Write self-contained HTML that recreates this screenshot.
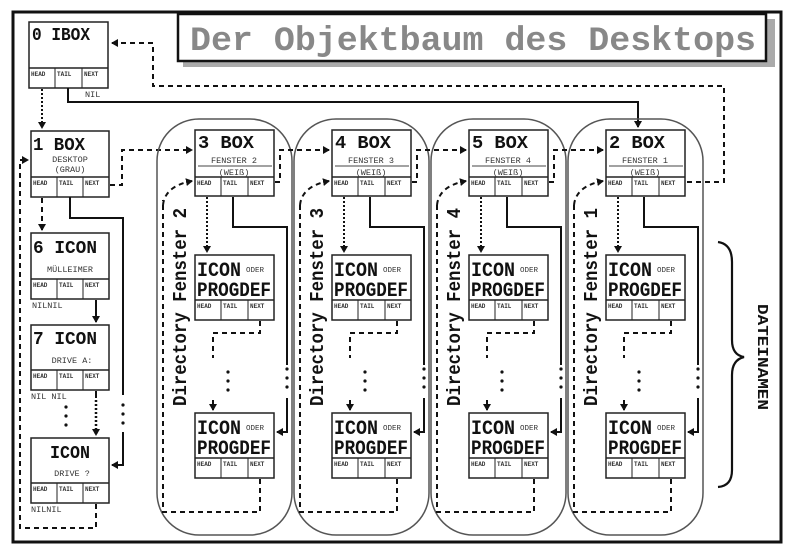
<!DOCTYPE html>
<html><head><meta charset="utf-8"><style>
html,body{margin:0;padding:0;background:#fff;}
svg{display:block;}
text{font-family:"Liberation Mono",monospace;font-weight:bold;fill:#111;}
.s{font-size:6px;font-weight:bold;fill:#333;}
.m{font-size:8.5px;font-weight:normal;fill:#333;}
.b{font-size:18px;}
.box{fill:#fff;stroke:#222;stroke-width:1.5;}
.ln{fill:none;stroke:#111;stroke-width:2;}
.da{fill:none;stroke:#111;stroke-width:2;stroke-dasharray:5,4;}
.dt{fill:none;stroke:#111;stroke-width:2;stroke-dasharray:2,2;}
.col{fill:none;stroke:#555;stroke-width:1.5;}
</style></head><body>
<svg width="800" height="553" viewBox="0 0 800 553" xmlns="http://www.w3.org/2000/svg">
<defs>
<marker id="a" markerWidth="8" markerHeight="8" refX="6" refY="4" orient="auto" markerUnits="userSpaceOnUse"><path d="M0,0 L7,4 L0,8 z" fill="#111"/></marker>
</defs>
<rect x="0" y="0" width="800" height="553" fill="#fff"/>
<!-- frame -->
<rect x="13" y="12" width="768" height="530" fill="none" stroke="#111" stroke-width="3"/>
<!-- title -->
<rect x="183" y="19" width="592" height="48" fill="#aaa"/>
<rect x="178" y="14" width="588" height="47" fill="#fff" stroke="#111" stroke-width="2.5"/>
<text x="190" y="50" style="font-size:34px;fill:#888" textLength="566" lengthAdjust="spacingAndGlyphs">Der Objektbaum des Desktops</text>

<!-- 0 IBOX -->
<rect class="box" x="29" y="22" width="79" height="66"/>
<line x1="29" y1="68" x2="108" y2="68" stroke="#222" stroke-width="1.5"/>
<line x1="55" y1="68" x2="55" y2="88" stroke="#222"/><line x1="82" y1="68" x2="82" y2="88" stroke="#222"/>
<text x="32" y="40" class="b" textLength="58" lengthAdjust="spacingAndGlyphs">0 IBOX</text>
<text class="s" x="31" y="76">HEAD</text><text class="s" x="57" y="76">TAIL</text><text class="s" x="84" y="76">NEXT</text>
<text class="m" x="85" y="97">NIL</text>

<!-- 1 BOX -->
<rect class="box" x="31" y="131" width="78" height="66"/>
<line x1="31" y1="177" x2="109" y2="177" stroke="#222" stroke-width="1.5"/>
<line x1="57" y1="177" x2="57" y2="197" stroke="#222"/><line x1="83" y1="177" x2="83" y2="197" stroke="#222"/>
<text x="33" y="150" class="b" textLength="52" lengthAdjust="spacingAndGlyphs">1 BOX</text>
<text class="m" x="70" y="162" text-anchor="middle">DESKTOP</text>
<text class="m" x="70" y="172" text-anchor="middle">(GRAU)</text>
<text class="s" x="33" y="185">HEAD</text><text class="s" x="59" y="185">TAIL</text><text class="s" x="85" y="185">NEXT</text>

<!-- 6 ICON -->
<rect class="box" x="31" y="233" width="78" height="66"/>
<line x1="31" y1="279" x2="109" y2="279" stroke="#222" stroke-width="1.5"/>
<line x1="57" y1="279" x2="57" y2="299" stroke="#222"/><line x1="83" y1="279" x2="83" y2="299" stroke="#222"/>
<text x="33" y="253" class="b" textLength="64" lengthAdjust="spacingAndGlyphs">6 ICON</text>
<text class="m" x="70" y="272" text-anchor="middle">MÜLLEIMER</text>
<text class="s" x="33" y="287">HEAD</text><text class="s" x="59" y="287">TAIL</text><text class="s" x="85" y="287">NEXT</text>
<text class="m" x="32" y="308">NILNIL</text>

<!-- 7 ICON -->
<rect class="box" x="31" y="325" width="78" height="65"/>
<line x1="31" y1="370" x2="109" y2="370" stroke="#222" stroke-width="1.5"/>
<line x1="57" y1="370" x2="57" y2="390" stroke="#222"/><line x1="83" y1="370" x2="83" y2="390" stroke="#222"/>
<text x="33" y="344" class="b" textLength="64" lengthAdjust="spacingAndGlyphs">7 ICON</text>
<text class="m" x="72" y="363" text-anchor="middle">DRIVE A:</text>
<text class="s" x="33" y="378">HEAD</text><text class="s" x="59" y="378">TAIL</text><text class="s" x="85" y="378">NEXT</text>
<text class="m" x="31" y="399">NIL NIL</text>

<!-- ICON DRIVE ? -->
<rect class="box" x="31" y="438" width="78" height="65"/>
<line x1="31" y1="483" x2="109" y2="483" stroke="#222" stroke-width="1.5"/>
<line x1="57" y1="483" x2="57" y2="503" stroke="#222"/><line x1="83" y1="483" x2="83" y2="503" stroke="#222"/>
<text x="50" y="458" class="b" textLength="40" lengthAdjust="spacingAndGlyphs">ICON</text>
<text class="m" x="72" y="476" text-anchor="middle">DRIVE ?</text>
<text class="s" x="33" y="491">HEAD</text><text class="s" x="59" y="491">TAIL</text><text class="s" x="85" y="491">NEXT</text>
<text class="m" x="31" y="512">NILNIL</text>

<!-- left column connectors -->
<line class="dt" x1="42" y1="89" x2="42" y2="128" marker-end="url(#a)"/>
<line class="da" x1="42" y1="198" x2="42" y2="230" marker-end="url(#a)"/>
<line class="ln" x1="96" y1="300" x2="96" y2="322" marker-end="url(#a)"/>
<line class="ln" x1="96" y1="391" x2="96" y2="398" />
<line class="dt" x1="96" y1="400" x2="96" y2="435" marker-end="url(#a)" style="stroke-width:2.5"/>
<g fill="#111"><circle cx="66" cy="407" r="1.6"/><circle cx="66" cy="416" r="1.6"/><circle cx="66" cy="425" r="1.6"/>
<circle cx="123" cy="405" r="1.6"/><circle cx="123" cy="414" r="1.6"/><circle cx="123" cy="423" r="1.6"/></g>
<polyline class="ln" points="70,197 70,218 123,218 123,395"/>
<polyline class="ln" points="123,432 123,465 112,465" marker-end="url(#a)"/>
<polyline class="da" points="96,504 96,528 20,528 20,160 28,160" marker-end="url(#a)"/>
<!-- top connectors -->
<polyline class="ln" points="68,88 68,102 638,102 638,127" marker-end="url(#a)"/>
<polyline class="da" points="687,182 724,182 724,86 153,86 153,43 112,43" marker-end="url(#a)"/>
<polyline class="da" points="110,185 122,185 122,150 192,150" marker-end="url(#a)"/>

<!-- column template instances -->
<g id="colA">
<rect class="col" x="157" y="119" width="135" height="416" rx="42"/>
<rect class="box" x="195" y="130" width="79" height="66"/>
<line x1="195" y1="177" x2="274" y2="177" stroke="#222" stroke-width="1.5"/>
<line x1="221" y1="177" x2="221" y2="196" stroke="#222"/><line x1="248" y1="177" x2="248" y2="196" stroke="#222"/>
<text class="s" x="197" y="185">HEAD</text><text class="s" x="223" y="185">TAIL</text><text class="s" x="250" y="185">NEXT</text>
<line x1="198" y1="166" x2="272" y2="166" stroke="#444"/>
<rect class="box" x="195" y="255" width="79" height="65"/>
<line x1="195" y1="300" x2="274" y2="300" stroke="#222" stroke-width="1.5"/>
<line x1="221" y1="300" x2="221" y2="320" stroke="#222"/><line x1="248" y1="300" x2="248" y2="320" stroke="#222"/>
<text class="s" x="197" y="308">HEAD</text><text class="s" x="223" y="308">TAIL</text><text class="s" x="250" y="308">NEXT</text>
<text x="197" y="276" style="font-size:20px" textLength="44" lengthAdjust="spacingAndGlyphs">ICON</text>
<text class="m" x="246" y="272" style="font-size:7.5px">ODER</text>
<text x="197" y="296" style="font-size:20px" textLength="74" lengthAdjust="spacingAndGlyphs">PROGDEF</text>
<rect class="box" x="195" y="413" width="79" height="65"/>
<line x1="195" y1="458" x2="274" y2="458" stroke="#222" stroke-width="1.5"/>
<line x1="221" y1="458" x2="221" y2="478" stroke="#222"/><line x1="248" y1="458" x2="248" y2="478" stroke="#222"/>
<text class="s" x="197" y="466">HEAD</text><text class="s" x="223" y="466">TAIL</text><text class="s" x="250" y="466">NEXT</text>
<text x="197" y="434" style="font-size:20px" textLength="44" lengthAdjust="spacingAndGlyphs">ICON</text>
<text class="m" x="246" y="430" style="font-size:7.5px">ODER</text>
<text x="197" y="454" style="font-size:20px" textLength="74" lengthAdjust="spacingAndGlyphs">PROGDEF</text>
<line class="dt" x1="207" y1="197" x2="207" y2="252" marker-end="url(#a)"/>
<polyline class="ln" points="233,197 233,227 287,227 287,365"/>
<g fill="#111"><circle cx="287" cy="369" r="1.6"/><circle cx="287" cy="378" r="1.6"/><circle cx="287" cy="387" r="1.6"/>
<circle cx="228" cy="372" r="1.6"/><circle cx="228" cy="381" r="1.6"/><circle cx="228" cy="390" r="1.6"/></g>
<polyline class="ln" points="287,398 287,432 277,432" marker-end="url(#a)"/>
<polyline class="da" points="260,321 260,333 213,333 213,358"/>
<line class="ln" x1="213" y1="400" x2="213" y2="410" marker-end="url(#a)"/>
<polyline class="da" points="260,479 260,512 163,512 163,200 Q165,186 192,181"/>
<path class="da" d="M163,205 Q165,186 192,181" marker-end="url(#a)"/>
<polyline class="da" points="275,182 280,182 280,150 329,150" marker-end="url(#a)"/>
<text transform="translate(186,307) rotate(-90)" text-anchor="middle" style="font-size:19px" textLength="198" lengthAdjust="spacingAndGlyphs">Directory Fenster 2</text>
<text x="198" y="148" class="b" textLength="56" lengthAdjust="spacingAndGlyphs">3  BOX</text>
<text class="m" x="234" y="163" text-anchor="middle">FENSTER 2</text>
<text class="m" x="234" y="175" text-anchor="middle">(WEIß)</text>
</g>

<g transform="translate(137,0)">
<rect class="col" x="157" y="119" width="135" height="416" rx="42"/>
<rect class="box" x="195" y="130" width="79" height="66"/>
<line x1="195" y1="177" x2="274" y2="177" stroke="#222" stroke-width="1.5"/>
<line x1="221" y1="177" x2="221" y2="196" stroke="#222"/><line x1="248" y1="177" x2="248" y2="196" stroke="#222"/>
<text class="s" x="197" y="185">HEAD</text><text class="s" x="223" y="185">TAIL</text><text class="s" x="250" y="185">NEXT</text>
<line x1="198" y1="166" x2="272" y2="166" stroke="#444"/>
<rect class="box" x="195" y="255" width="79" height="65"/>
<line x1="195" y1="300" x2="274" y2="300" stroke="#222" stroke-width="1.5"/>
<line x1="221" y1="300" x2="221" y2="320" stroke="#222"/><line x1="248" y1="300" x2="248" y2="320" stroke="#222"/>
<text class="s" x="197" y="308">HEAD</text><text class="s" x="223" y="308">TAIL</text><text class="s" x="250" y="308">NEXT</text>
<text x="197" y="276" style="font-size:20px" textLength="44" lengthAdjust="spacingAndGlyphs">ICON</text>
<text class="m" x="246" y="272" style="font-size:7.5px">ODER</text>
<text x="197" y="296" style="font-size:20px" textLength="74" lengthAdjust="spacingAndGlyphs">PROGDEF</text>
<rect class="box" x="195" y="413" width="79" height="65"/>
<line x1="195" y1="458" x2="274" y2="458" stroke="#222" stroke-width="1.5"/>
<line x1="221" y1="458" x2="221" y2="478" stroke="#222"/><line x1="248" y1="458" x2="248" y2="478" stroke="#222"/>
<text class="s" x="197" y="466">HEAD</text><text class="s" x="223" y="466">TAIL</text><text class="s" x="250" y="466">NEXT</text>
<text x="197" y="434" style="font-size:20px" textLength="44" lengthAdjust="spacingAndGlyphs">ICON</text>
<text class="m" x="246" y="430" style="font-size:7.5px">ODER</text>
<text x="197" y="454" style="font-size:20px" textLength="74" lengthAdjust="spacingAndGlyphs">PROGDEF</text>
<line class="dt" x1="207" y1="197" x2="207" y2="252" marker-end="url(#a)"/>
<polyline class="ln" points="233,197 233,227 287,227 287,365"/>
<g fill="#111"><circle cx="287" cy="369" r="1.6"/><circle cx="287" cy="378" r="1.6"/><circle cx="287" cy="387" r="1.6"/>
<circle cx="228" cy="372" r="1.6"/><circle cx="228" cy="381" r="1.6"/><circle cx="228" cy="390" r="1.6"/></g>
<polyline class="ln" points="287,398 287,432 277,432" marker-end="url(#a)"/>
<polyline class="da" points="260,321 260,333 213,333 213,358"/>
<line class="ln" x1="213" y1="400" x2="213" y2="410" marker-end="url(#a)"/>
<polyline class="da" points="260,479 260,512 163,512 163,205"/>
<path class="da" d="M163,205 Q165,186 192,181" marker-end="url(#a)"/>
<polyline class="da" points="275,182 280,182 280,150 329,150" marker-end="url(#a)"/>
<text transform="translate(186,307) rotate(-90)" text-anchor="middle" style="font-size:19px" textLength="198" lengthAdjust="spacingAndGlyphs">Directory Fenster 3</text>
<text x="198" y="148" class="b" textLength="56" lengthAdjust="spacingAndGlyphs">4  BOX</text>
<text class="m" x="234" y="163" text-anchor="middle">FENSTER 3</text>
<text class="m" x="234" y="175" text-anchor="middle">(WEIß)</text>
</g>

<g transform="translate(274,0)">
<rect class="col" x="157" y="119" width="135" height="416" rx="42"/>
<rect class="box" x="195" y="130" width="79" height="66"/>
<line x1="195" y1="177" x2="274" y2="177" stroke="#222" stroke-width="1.5"/>
<line x1="221" y1="177" x2="221" y2="196" stroke="#222"/><line x1="248" y1="177" x2="248" y2="196" stroke="#222"/>
<text class="s" x="197" y="185">HEAD</text><text class="s" x="223" y="185">TAIL</text><text class="s" x="250" y="185">NEXT</text>
<line x1="198" y1="166" x2="272" y2="166" stroke="#444"/>
<rect class="box" x="195" y="255" width="79" height="65"/>
<line x1="195" y1="300" x2="274" y2="300" stroke="#222" stroke-width="1.5"/>
<line x1="221" y1="300" x2="221" y2="320" stroke="#222"/><line x1="248" y1="300" x2="248" y2="320" stroke="#222"/>
<text class="s" x="197" y="308">HEAD</text><text class="s" x="223" y="308">TAIL</text><text class="s" x="250" y="308">NEXT</text>
<text x="197" y="276" style="font-size:20px" textLength="44" lengthAdjust="spacingAndGlyphs">ICON</text>
<text class="m" x="246" y="272" style="font-size:7.5px">ODER</text>
<text x="197" y="296" style="font-size:20px" textLength="74" lengthAdjust="spacingAndGlyphs">PROGDEF</text>
<rect class="box" x="195" y="413" width="79" height="65"/>
<line x1="195" y1="458" x2="274" y2="458" stroke="#222" stroke-width="1.5"/>
<line x1="221" y1="458" x2="221" y2="478" stroke="#222"/><line x1="248" y1="458" x2="248" y2="478" stroke="#222"/>
<text class="s" x="197" y="466">HEAD</text><text class="s" x="223" y="466">TAIL</text><text class="s" x="250" y="466">NEXT</text>
<text x="197" y="434" style="font-size:20px" textLength="44" lengthAdjust="spacingAndGlyphs">ICON</text>
<text class="m" x="246" y="430" style="font-size:7.5px">ODER</text>
<text x="197" y="454" style="font-size:20px" textLength="74" lengthAdjust="spacingAndGlyphs">PROGDEF</text>
<line class="dt" x1="207" y1="197" x2="207" y2="252" marker-end="url(#a)"/>
<polyline class="ln" points="233,197 233,227 287,227 287,365"/>
<g fill="#111"><circle cx="287" cy="369" r="1.6"/><circle cx="287" cy="378" r="1.6"/><circle cx="287" cy="387" r="1.6"/>
<circle cx="228" cy="372" r="1.6"/><circle cx="228" cy="381" r="1.6"/><circle cx="228" cy="390" r="1.6"/></g>
<polyline class="ln" points="287,398 287,432 277,432" marker-end="url(#a)"/>
<polyline class="da" points="260,321 260,333 213,333 213,358"/>
<line class="ln" x1="213" y1="400" x2="213" y2="410" marker-end="url(#a)"/>
<polyline class="da" points="260,479 260,512 163,512 163,205"/>
<path class="da" d="M163,205 Q165,186 192,181" marker-end="url(#a)"/>
<polyline class="da" points="275,182 280,182 280,150 329,150" marker-end="url(#a)"/>
<text transform="translate(186,307) rotate(-90)" text-anchor="middle" style="font-size:19px" textLength="198" lengthAdjust="spacingAndGlyphs">Directory Fenster 4</text>
<text x="198" y="148" class="b" textLength="56" lengthAdjust="spacingAndGlyphs">5  BOX</text>
<text class="m" x="234" y="163" text-anchor="middle">FENSTER 4</text>
<text class="m" x="234" y="175" text-anchor="middle">(WEIß)</text>
</g>

<g transform="translate(411,0)">
<rect class="col" x="157" y="119" width="135" height="416" rx="42"/>
<rect class="box" x="195" y="130" width="79" height="66"/>
<line x1="195" y1="177" x2="274" y2="177" stroke="#222" stroke-width="1.5"/>
<line x1="221" y1="177" x2="221" y2="196" stroke="#222"/><line x1="248" y1="177" x2="248" y2="196" stroke="#222"/>
<text class="s" x="197" y="185">HEAD</text><text class="s" x="223" y="185">TAIL</text><text class="s" x="250" y="185">NEXT</text>
<line x1="198" y1="166" x2="272" y2="166" stroke="#444"/>
<rect class="box" x="195" y="255" width="79" height="65"/>
<line x1="195" y1="300" x2="274" y2="300" stroke="#222" stroke-width="1.5"/>
<line x1="221" y1="300" x2="221" y2="320" stroke="#222"/><line x1="248" y1="300" x2="248" y2="320" stroke="#222"/>
<text class="s" x="197" y="308">HEAD</text><text class="s" x="223" y="308">TAIL</text><text class="s" x="250" y="308">NEXT</text>
<text x="197" y="276" style="font-size:20px" textLength="44" lengthAdjust="spacingAndGlyphs">ICON</text>
<text class="m" x="246" y="272" style="font-size:7.5px">ODER</text>
<text x="197" y="296" style="font-size:20px" textLength="74" lengthAdjust="spacingAndGlyphs">PROGDEF</text>
<rect class="box" x="195" y="413" width="79" height="65"/>
<line x1="195" y1="458" x2="274" y2="458" stroke="#222" stroke-width="1.5"/>
<line x1="221" y1="458" x2="221" y2="478" stroke="#222"/><line x1="248" y1="458" x2="248" y2="478" stroke="#222"/>
<text class="s" x="197" y="466">HEAD</text><text class="s" x="223" y="466">TAIL</text><text class="s" x="250" y="466">NEXT</text>
<text x="197" y="434" style="font-size:20px" textLength="44" lengthAdjust="spacingAndGlyphs">ICON</text>
<text class="m" x="246" y="430" style="font-size:7.5px">ODER</text>
<text x="197" y="454" style="font-size:20px" textLength="74" lengthAdjust="spacingAndGlyphs">PROGDEF</text>
<line class="dt" x1="207" y1="197" x2="207" y2="252" marker-end="url(#a)"/>
<polyline class="ln" points="233,197 233,227 287,227 287,365"/>
<g fill="#111"><circle cx="287" cy="369" r="1.6"/><circle cx="287" cy="378" r="1.6"/><circle cx="287" cy="387" r="1.6"/>
<circle cx="228" cy="372" r="1.6"/><circle cx="228" cy="381" r="1.6"/><circle cx="228" cy="390" r="1.6"/></g>
<polyline class="ln" points="287,398 287,432 277,432" marker-end="url(#a)"/>
<polyline class="da" points="260,321 260,333 213,333 213,358"/>
<line class="ln" x1="213" y1="400" x2="213" y2="410" marker-end="url(#a)"/>
<polyline class="da" points="260,479 260,512 163,512 163,205"/>
<path class="da" d="M163,205 Q165,186 192,181" marker-end="url(#a)"/>
<text transform="translate(186,307) rotate(-90)" text-anchor="middle" style="font-size:19px" textLength="198" lengthAdjust="spacingAndGlyphs">Directory Fenster 1</text>
<text x="198" y="148" class="b" textLength="56" lengthAdjust="spacingAndGlyphs">2  BOX</text>
<text class="m" x="234" y="163" text-anchor="middle">FENSTER 1</text>
<text class="m" x="234" y="175" text-anchor="middle">(WEIß)</text>
</g>

<!-- brace -->
<path d="M718,242 Q732,244 732,262 L732,340 Q732,355 744,357 Q732,360 732,375 L732,470 Q732,486 718,487" fill="none" stroke="#111" stroke-width="2.2"/>
<text transform="translate(758,357) rotate(90)" text-anchor="middle" style="font-size:15px" textLength="106" lengthAdjust="spacingAndGlyphs">DATEINAMEN</text>
</svg>
</body></html>
